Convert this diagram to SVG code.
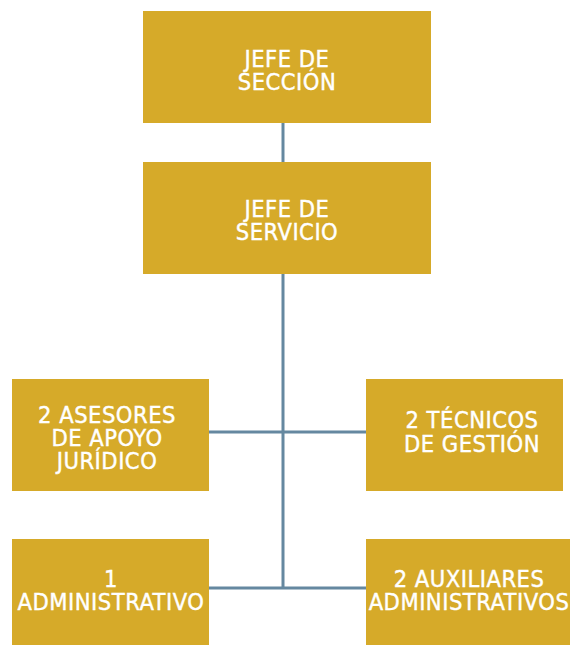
<svg xmlns="http://www.w3.org/2000/svg" width="570" height="645" viewBox="0 0 570 645">
<style>
.box{fill:#D6AA29}
.t{fill:#fff;stroke:#fff;stroke-width:0.4;font-family:"DejaVu Sans Condensed","DejaVu Sans",sans-serif;font-size:23.5px;text-anchor:middle;letter-spacing:0.5px}
.c{stroke:#6588A0;stroke-width:3;fill:none}
</style>
<rect width="570" height="645" fill="#fff"/>
<g id="connectors">
<line class="c" x1="283" y1="123" x2="283" y2="162"/>
<line class="c" x1="283" y1="274" x2="283" y2="588"/>
<line class="c" x1="209" y1="432" x2="366" y2="432"/>
<line class="c" x1="209" y1="588" x2="366" y2="588"/>
</g>
<g id="n1"><rect class="box" x="143" y="11" width="288" height="112"/>
<text class="t" x="287" y="67">JEFE DE</text><text class="t" x="287" y="90">SECCIÓN</text></g>
<g id="n2"><rect class="box" x="143" y="162" width="288" height="112"/>
<text class="t" x="287" y="217">JEFE DE</text><text class="t" x="287" y="240">SERVICIO</text></g>
<g id="n3"><rect class="box" x="12" y="379" width="197" height="112"/>
<text class="t" x="107" y="423">2 ASESORES</text><text class="t" x="107" y="446">DE APOYO</text><text class="t" x="107" y="469">JURÍDICO</text></g>
<g id="n4"><rect class="box" x="366" y="379" width="197" height="112"/>
<text class="t" x="472" y="428">2 TÉCNICOS</text><text class="t" x="472" y="452">DE GESTIÓN</text></g>
<g id="n5"><rect class="box" x="12" y="539" width="197" height="106"/>
<text class="t" x="111" y="587">1</text><text class="t" x="111" y="610">ADMINISTRATIVO</text></g>
<g id="n6"><rect class="box" x="366" y="539" width="204" height="106"/>
<text class="t" x="469" y="587">2 AUXILIARES</text><text class="t" x="469" y="610">ADMINISTRATIVOS</text></g>
</svg>
